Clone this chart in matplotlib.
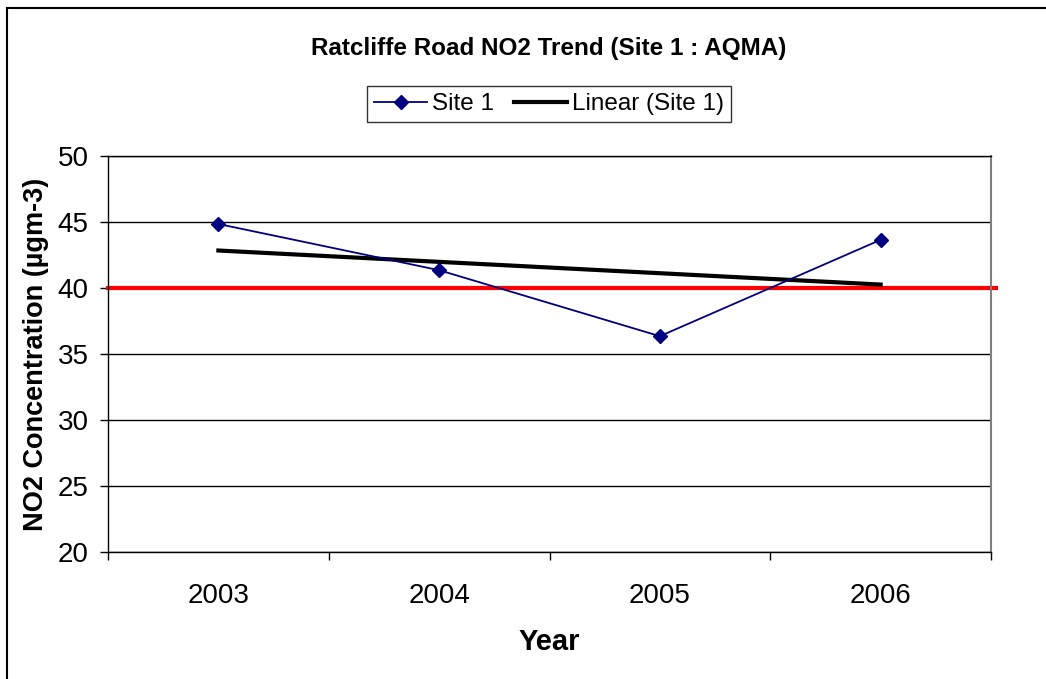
import numpy as np
import matplotlib.pyplot as plt
from matplotlib.patches import Rectangle

plt.rcParams['font.family'] = ['Liberation Sans', 'DejaVu Sans']

years = ['2003', '2004', '2005', '2006']
site1 = [44.85, 41.35, 36.35, 43.65]
objective = 40
yticks = [20, 25, 30, 35, 40, 45, 50]

x = np.arange(len(years))
slope, intercept = np.polyfit(x, site1, 1)
trend = slope * x + intercept

fig = plt.figure(figsize=(10.46, 6.79), dpi=100)
ax = fig.add_axes([108 / 1046, 1 - 552 / 679, 883 / 1046, 396 / 679])

for v in yticks:
    ax.axhline(v, color='black', lw=1, zorder=1)
ax.axhline(objective, xmin=0, xmax=1.006, color='#ff0000', lw=3, zorder=2, clip_on=False)

ax.plot(x, trend, color='black', lw=3, zorder=3, label='Linear (Site 1)')
ax.plot(x, site1, color='#000080', lw=1.3, marker='D', markersize=7,
        markerfacecolor='#000080', markeredgecolor='#000080', zorder=4, label='Site 1')

ax.set_xlim(-0.5, 3.5)
ax.set_ylim(20, 50)
ax.set_yticks(yticks)
ax.set_xticks(x)
ax.set_xticklabels(years)
ax.set_xticks(np.arange(-0.5, 4, 1), minor=True)
ax.tick_params(axis='x', which='major', length=0, pad=22, labelsize=20)
ax.tick_params(axis='x', which='minor', length=6, width=1, direction='out')
ax.tick_params(axis='y', length=6, width=1, direction='out', labelsize=20, pad=8)

ax.spines['right'].set_color('#808080')
ax.spines['right'].set_linewidth(1.5)
for s in ['left', 'bottom', 'top']:
    ax.spines[s].set_linewidth(1)

ax.set_xlabel('Year', fontsize=21, fontweight='bold', labelpad=14)
ax.set_ylabel('NO2 Concentration (µgm-3)', fontsize=19.5, fontweight='bold', labelpad=6)

fig.text(549 / 1046, 1 - 48 / 679, 'Ratcliffe Road NO2 Trend (Site 1 : AQMA)',
         ha='center', va='center', fontsize=17.5, fontweight='bold')

h, l = ax.get_legend_handles_labels()
leg = fig.legend([h[1], h[0]], [l[1], l[0]], loc='center', ncol=2,
                 bbox_to_anchor=(549 / 1046, 1 - 104 / 679), fontsize=17.5,
                 frameon=True, fancybox=False, edgecolor='black',
                 handlelength=2.2, handletextpad=0.2, columnspacing=0.8,
                 borderpad=0.3)
leg.get_frame().set_linewidth(1)

fig.patches.append(Rectangle((7 / 1046, -0.1), 1.2, 1.1 - 8 / 679,
                             transform=fig.transFigure, fill=False,
                             edgecolor='black', lw=1.5))

fig.savefig('out.png', dpi=100)
